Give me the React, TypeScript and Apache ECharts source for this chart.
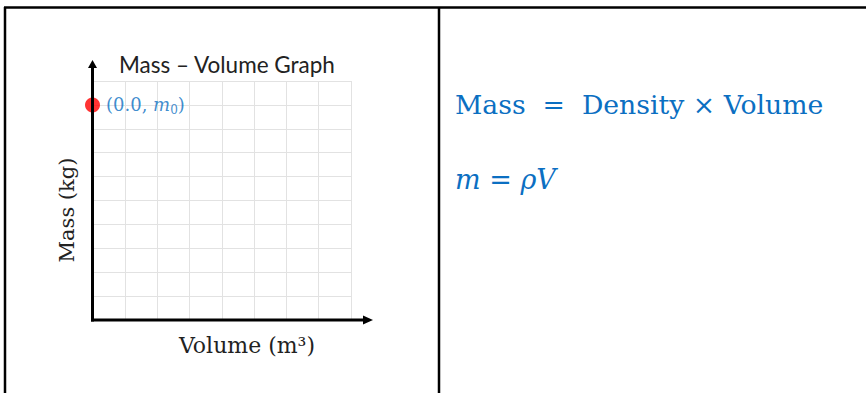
import React, { useEffect, useRef } from "react";
import * as echarts from "echarts";

const xTicks = [0, 1, 2, 3, 4, 5, 6, 7, 8];
const yTicks = [0, 1, 2, 3, 4, 5, 6, 7, 8, 9, 10];
const pointData: [number, number][] = [[0, 9]];
const chartTitle = "Mass \u2013 Volume Graph";
const xName = "Volume (m\u00b3)";
const yName = "Mass (kg)";
const formula1 = "Mass  =  Density \u00d7 Volume";
const formula2 = "m = \u03c1V";

const BLUE = "#0b6fc2";
const SERIF = "'DejaVu Serif', serif";

export default function App() {
  const ref = useRef<HTMLDivElement>(null);
  useEffect(() => {
    if (!ref.current) return;
    const chart = echarts.init(ref.current, null, { renderer: "svg" });
    const gl = 92.5, gt = 81, gr = 351, gb = 320;
    chart.setOption({
      animation: false,
      backgroundColor: "#ffffff",
      grid: { left: gl, top: gt, width: gr - gl, height: gb - gt },
      xAxis: {
        type: "value",
        min: xTicks[0],
        max: xTicks[xTicks.length - 1],
        interval: 1,
        axisLine: { show: false },
        axisTick: { show: false },
        axisLabel: { show: false },
        splitLine: { show: true, lineStyle: { color: "#e2e2e2", width: 1 } },
      },
      yAxis: {
        type: "value",
        min: yTicks[0],
        max: yTicks[yTicks.length - 1],
        interval: 1,
        axisLine: { show: false },
        axisTick: { show: false },
        axisLabel: { show: false },
        splitLine: { show: true, lineStyle: { color: "#e2e2e2", width: 1 } },
      },
      series: [
        {
          type: "scatter",
          data: pointData,
          symbolSize: 15,
          z: 10,
          itemStyle: { color: "#ff0000" },
          label: {
            show: true,
            position: "right",
            distance: 6,
            formatter: "{a|(0.0, }{m|m}{s|0}{a|)}",
            rich: {
              a: { fontFamily: SERIF, fontSize: 18, color: BLUE },
              m: { fontFamily: SERIF, fontSize: 18, fontStyle: "italic", color: BLUE },
              s: { fontFamily: SERIF, fontSize: 12, color: BLUE, padding: [10, 0, 0, 0] },
            },
          },
        },
      ],
      graphic: [
        // table borders
        { type: "line", shape: { x1: 4, y1: 7.5, x2: 866, y2: 7.5 }, style: { stroke: "#000", lineWidth: 2.5 } },
        { type: "line", shape: { x1: 5, y1: 7, x2: 5, y2: 393 }, style: { stroke: "#000", lineWidth: 2.5 } },
        { type: "line", shape: { x1: 439, y1: 7, x2: 439, y2: 393 }, style: { stroke: "#000", lineWidth: 2.5 } },
        // axes
        { type: "line", z: 20, shape: { x1: gl, y1: gb + 1.5, x2: gl, y2: 66 }, style: { stroke: "#000", lineWidth: 3 } },
        { type: "polygon", z: 20, shape: { points: [[gl, 60], [gl - 4.5, 68], [gl + 4.5, 68]] }, style: { fill: "#000" } },
        { type: "line", z: 20, shape: { x1: gl - 1.5, y1: gb, x2: 366, y2: gb }, style: { stroke: "#000", lineWidth: 3 } },
        { type: "polygon", z: 20, shape: { points: [[373, gb], [363, gb - 4.5], [363, gb + 4.5]] }, style: { fill: "#000" } },
        // title
        {
          type: "text",
          left: 119,
          top: 53,
          style: { text: chartTitle, font: "22.5px Lato, sans-serif", fill: "#222" },
        },
        // axis names
        {
          type: "text",
          x: 247,
          y: 345,
          style: { text: xName, font: `22px ${SERIF}`, fill: "#222", align: "center", verticalAlign: "middle" },
        },
        {
          type: "text",
          x: 67,
          y: 210,
          rotation: Math.PI / 2,
          style: { text: yName, font: `21px ${SERIF}`, fill: "#222", align: "center", verticalAlign: "middle" },
        },
        // formulas
        {
          type: "text",
          x: 455,
          y: 104,
          style: { text: formula1, font: `26.7px ${SERIF}`, fill: BLUE, align: "left", verticalAlign: "middle" },
        },
        {
          type: "text",
          x: 455,
          y: 179,
          style: { text: formula2, font: `italic 27px ${SERIF}`, fill: BLUE, align: "left", verticalAlign: "middle" },
        },
      ],
    });
    return () => chart.dispose();
  }, []);
  return (
    <div
      ref={ref}
      style={{ position: "fixed", left: 0, top: 0, width: 866, height: 393, background: "#fff" }}
    />
  );
}
